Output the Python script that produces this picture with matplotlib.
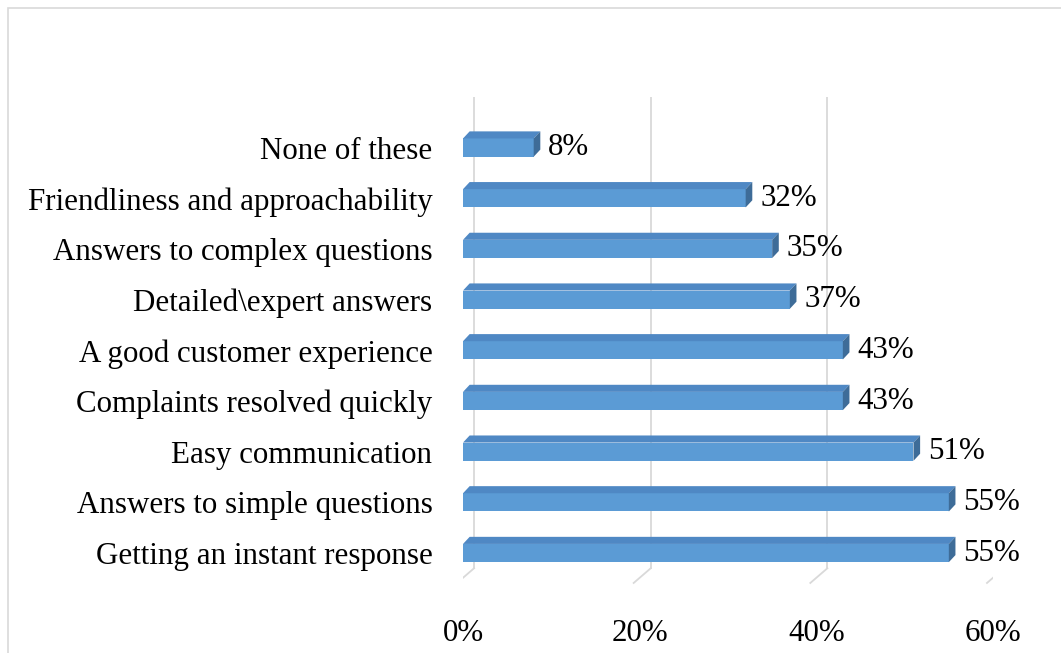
import matplotlib.pyplot as plt
from matplotlib.patches import Polygon, Rectangle

categories = ["Getting an instant response", "Answers to simple questions",
              "Easy communication", "Complaints resolved quickly",
              "A good customer experience", "Detailed\\expert answers",
              "Answers to complex questions", "Friendliness and approachability",
              "None of these"]
values = [55, 55, 51, 43, 43, 37, 35, 32, 8]
ticks = [0, 20, 40, 60]
tick_labels = ["0%", "20%", "40%", "60%"]

plt.rcParams['font.family'] = ['Liberation Serif', 'DejaVu Serif']
fs = 22.3

fig = plt.figure(figsize=(10.61, 6.53), dpi=100)
fig.patches.append(Rectangle((8 / 1061, -0.05), 1.1, 1.05 - 8 / 653,
                             transform=fig.transFigure, fill=False,
                             edgecolor='#d9d9d9', linewidth=1.2))
ax = fig.add_axes([0.4364, 0.1026, 0.4995, 0.749])

front = '#5b9bd5'
top_c = '#4f88c4'
side_c = '#3e6c98'
h = 0.36
dx = 0.75
dy = 0.14

# back wall gridlines and floor
gx = 1.25
for g in ticks:
    ax.plot([g + gx, g + gx], [-0.30, 9.0], color='#d9d9d9', lw=1.3, zorder=0)
    ax.plot([g + gx, g - 0.68], [-0.30, -0.59], color='#d9d9d9', lw=1.3, zorder=0)

ypos = list(range(len(categories)))
ax.barh(ypos, values, height=h, color=front, edgecolor='none', zorder=3)
for y, v in zip(ypos, values):
    yt = y + h / 2
    yb = y - h / 2
    ax.add_patch(Polygon([(0, yt), (v, yt), (v + dx, yt + dy), (dx, yt + dy)],
                         closed=True, facecolor=top_c, edgecolor='none', zorder=3))
    ax.add_patch(Polygon([(v, yb), (v, yt), (v + dx, yt + dy), (v + dx, yb + dy)],
                         closed=True, facecolor=side_c, edgecolor='none', zorder=3))
    ax.text(v + dx + 0.9, y, f"{v}%", va='center', ha='left', fontsize=fs)

ax.set_xlim(0, 60)
ax.set_ylim(-0.65, 9.0)
ax.set_yticks(ypos)
ax.set_yticklabels(categories, fontsize=fs)
ax.set_xticks(ticks)
ax.set_xticklabels(tick_labels, fontsize=fs)
ax.tick_params(axis='both', length=0)
ax.tick_params(axis='x', pad=24)
ax.tick_params(axis='y', pad=22)
for s in ax.spines.values():
    s.set_visible(False)
ax.patch.set_visible(False)

fig.savefig("out.png", dpi=100)
